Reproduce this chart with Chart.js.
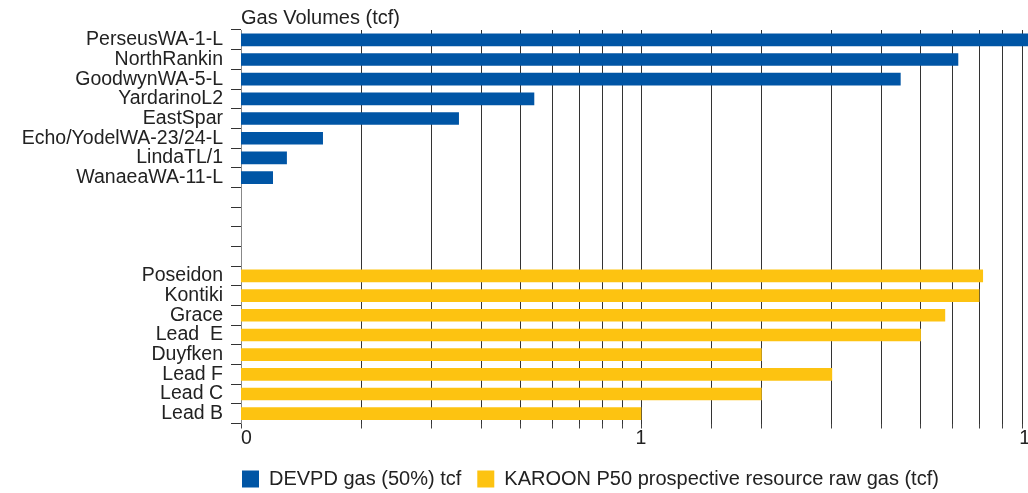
<!DOCTYPE html>
<html lang="en">
<head>
    <meta charset="UTF-8">
    <title>Gas Volumes</title>
    <style>
        body {
            margin: 0;
            background: #fff;
            overflow: hidden; /* plot runs a little past the right edge, like the original */
        }
        .chart-box {
            width: 1041px;
            height: 493px;
        }
    </style>
</head>
<body>
    <div class="chart-box"><canvas id="gasChart"></canvas></div>

    <script src="https://cdn.jsdelivr.net/npm/chart.js@4.4.0/dist/chart.umd.min.js"></script>
    <script>
        // Fields and volumes (tcf)
        const devpdFields = ['PerseusWA-1-L', 'NorthRankin', 'GoodwynWA-5-L', 'YardarinoL2',
                             'EastSpar', 'Echo/YodelWA-23/24-L', 'LindaTL/1', 'WanaeaWA-11-L'];
        const devpdGas = [10, 6.2, 4.45, 0.54, 0.35, 0.16, 0.13, 0.12];

        const karoonFields = ['Poseidon', 'Kontiki', 'Grace', 'Lead  E', 'Duyfken', 'Lead F', 'Lead C', 'Lead B'];
        const karoonGas = [7.15, 7.0, 5.75, 5.0, 2.0, 3.0, 2.0, 1.0];

        const spacerRows = 4;  // empty rows between the two groups

        const xTickValues = [0.1, 1, 10];
        const xTickText = ['0', '1', '10'];

        const seriesNames = ['DEVPD gas (50%) tcf', 'KAROON P50 prospective resource raw gas (tcf)'];
        const seriesColors = ['#0055a5', '#fdc311'];

        // build the category list and padded datasets
        const blanks = new Array(spacerRows).fill('');
        const labels = devpdFields.concat(blanks, karoonFields);
        const pad = n => new Array(n).fill(null);
        const devpdData = devpdGas.concat(pad(spacerRows + karoonGas.length));
        const karoonData = pad(devpdGas.length + spacerRows).concat(karoonGas);

        const font = { family: "'Liberation Sans', Arial, sans-serif", size: 19.5 };
        const textColor = '#222';

        // legend sits under the plot, starting at the y axis
        const nudgeLegend = {
            id: 'nudgeLegend',
            afterLayout(chart) {
                chart.legend.left -= 15;
                chart.legend.right -= 15;
            }
        };

        const ctx = document.getElementById('gasChart').getContext('2d');
        const gasChart = new Chart(ctx, {
            type: 'bar',
            data: {
                labels: labels,
                datasets: [{
                    label: seriesNames[0],
                    data: devpdData,
                    backgroundColor: seriesColors[0]
                }, {
                    label: seriesNames[1],
                    data: karoonData,
                    backgroundColor: seriesColors[1]
                }]
            },
            options: {
                indexAxis: 'y',
                responsive: true,
                maintainAspectRatio: false,
                animation: false,
                layout: { padding: { bottom: -6 } },
                datasets: {
                    bar: {
                        grouped: false,
                        barThickness: 12,
                        borderWidth: 0
                    }
                },
                scales: {
                    x: {
                        type: 'logarithmic',
                        min: 0.1,
                        max: 10,
                        border: { display: false },
                        grid: {
                            color: '#333',
                            tickColor: '#444',
                            tickLength: 5
                        },
                        ticks: {
                            autoSkip: false,
                            maxRotation: 0,
                            align: 'inner',
                            padding: 0,
                            color: textColor,
                            font: Object.assign({}, font, { lineHeight: 1 }),
                            callback: function (value) {
                                const i = xTickValues.findIndex(v => Math.abs(v - value) < 1e-9);
                                return i >= 0 ? xTickText[i] : '';
                            }
                        },
                        afterFit: scale => { scale.height = 29.5; }
                    },
                    y: {
                        border: { color: '#888', width: 1 },
                        grid: {
                            drawOnChartArea: false,
                            tickColor: '#333',
                            tickLength: 10
                        },
                        ticks: {
                            autoSkip: false,
                            padding: 8,
                            color: textColor,
                            font: font
                        },
                        afterFit: scale => { scale.width = 241; }
                    }
                },
                plugins: {
                    title: {
                        display: true,
                        text: 'Gas Volumes (tcf)',
                        align: 'start',
                        fullSize: false,
                        color: textColor,
                        font: { family: font.family, size: 20, weight: 'normal' },
                        padding: { top: 6, bottom: 0 }
                    },
                    legend: {
                        position: 'bottom',
                        align: 'start',
                        fullSize: false,
                        labels: {
                            boxWidth: 17,
                            boxHeight: 17,
                            padding: 16,
                            color: textColor,
                            font: { family: font.family, size: 20 }
                        }
                    },
                    tooltip: { enabled: false }
                }
            },
            plugins: [nudgeLegend]
        });
    </script>
</body>
</html>
